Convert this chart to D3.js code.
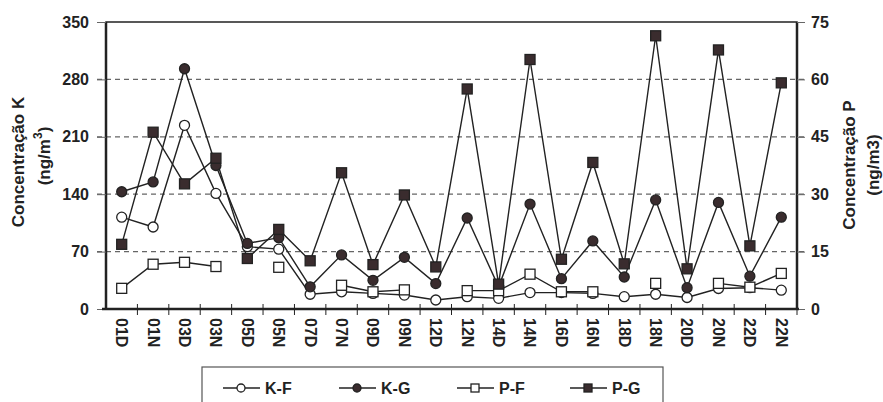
<html>
<head>
<meta charset="UTF-8">
<script src="https://cdnjs.cloudflare.com/ajax/libs/d3/7.8.5/d3.min.js"></script>
<style>
  body { margin: 0; background: #fff; }
  text { font-family: "Liberation Sans", Arial, sans-serif; font-weight: bold; fill: #222; }
</style>
</head>
<body>
<script>
    // sampling days / periods
    var categories = ["01D","01N","03D","03N","05D","05N","07D","07N","09D","09N","12D","12N",
                      "14D","14N","16D","16N","18D","18N","20D","20N","22D","22N"];

    // K concentrations (left axis, ng/m3)
    var kF = [112, 100, 224, 141, 76, 73, 18, 21, 19, 17, 11, 15, 13, 20, 20, 19, 15, 18, 14, 25, 26, 23];
    var kG = [143, 155, 293, 175, 80, 87, 27, 66, 35, 63, 31, 111, 27, 128, 37, 83, 39, 133, 26, 130, 40, 112];

    // P concentrations (right axis, ng/m3), null = no sample
    var pF = [5.4, 11.7, 12.2, 11.1, null, 10.9, null, 6.2, 4.5, 5.0, null, 4.8,
              4.8, 9.1, 4.5, 4.5, null, 6.7, null, 6.7, 5.7, 9.3];
    var pG = [16.9, 46.2, 32.7, 39.4, 13.2, 20.8, 12.6, 35.6, 11.6, 29.8, 11.0, 57.5,
              6.5, 65.2, 13.0, 38.3, 11.8, 71.4, 10.5, 67.7, 16.5, 59.1];

    var kTicks = [0, 70, 140, 210, 280, 350];
    var pTicks = [0, 15, 30, 45, 60, 75];

    var width = 883, height = 402;
    var plotL = 106, plotR = 797, plotT = 22, plotB = 309;
    var ink = "#222";
    var fillDark = "#3a2c2e";

    var svg = d3.select("body").append("svg")
        .attr("width", width)
        .attr("height", height);

    var x = d3.scaleBand().domain(categories).range([plotL, plotR]);
    var yK = d3.scaleLinear().domain([0, 350]).range([plotB, plotT]);
    var yP = d3.scaleLinear().domain([0, 75]).range([plotB, plotT]);

    // grid lines
    svg.append("g").selectAll("line")
        .data(kTicks.slice(1, -1))
        .enter().append("line")
        .attr("x1", plotL - 9).attr("x2", plotR + 8)
        .attr("y1", function (d) { return yK(d); })
        .attr("y2", function (d) { return yK(d); })
        .attr("stroke", "#666").attr("stroke-width", 1.2)
        .attr("stroke-dasharray", "5,4");

    // frame
    svg.append("rect")
        .attr("x", plotL).attr("y", plotT)
        .attr("width", plotR - plotL).attr("height", plotB - plotT)
        .attr("fill", "none").attr("stroke", ink).attr("stroke-width", 1.5);
    svg.append("line").attr("x1", plotR).attr("x2", plotR).attr("y1", plotT).attr("y2", plotB)
        .attr("stroke", ink).attr("stroke-width", 2.5);
    svg.append("line").attr("x1", plotL).attr("x2", plotL).attr("y1", plotT).attr("y2", plotB)
        .attr("stroke", ink).attr("stroke-width", 2.5);

    // left axis
    var gl = svg.append("g")
        .attr("transform", "translate(" + plotL + ",0)")
        .call(d3.axisLeft(yK).tickValues(kTicks).tickSize(9).tickPadding(8));
    gl.select(".domain").remove();
    gl.selectAll(".tick line").attr("stroke", "#666");
    gl.selectAll(".tick text").style("font-size", "16px");

    // right axis
    var gr = svg.append("g")
        .attr("transform", "translate(" + plotR + ",0)")
        .call(d3.axisRight(yP).tickValues(pTicks).tickSize(8).tickPadding(6));
    gr.select(".domain").remove();
    gr.selectAll(".tick line").attr("stroke", "#666");
    gr.selectAll(".tick text").style("font-size", "16px");

    // bottom axis: ticks at band edges
    var edges = categories.map(function (c) { return x(c); }).concat([plotR]);
    svg.append("line").attr("x1", plotL - 4).attr("x2", plotR + 2)
        .attr("y1", plotB).attr("y2", plotB)
        .attr("stroke", ink).attr("stroke-width", 2.5);
    svg.append("g").selectAll("line")
        .data(edges.slice(1))
        .enter().append("line")
        .attr("x1", function (d) { return d; }).attr("x2", function (d) { return d; })
        .attr("y1", plotB - 5).attr("y2", plotB + 6)
        .attr("stroke", ink).attr("stroke-width", 1);

    svg.append("g").selectAll("text")
        .data(categories)
        .enter().append("text")
        .attr("transform", function (d) {
            return "translate(" + (x(d) + x.bandwidth() / 2) + "," + (plotB + 9) + ") rotate(90)";
        })
        .attr("dy", "0.35em")
        .style("font-size", "16px")
        .text(function (d) { return d; });

    // axis titles
    svg.append("text")
        .attr("transform", "translate(24,162) rotate(-90)")
        .attr("text-anchor", "middle")
        .style("font-size", "17px")
        .text("Concentração K");
    var t2 = svg.append("text")
        .attr("transform", "translate(50,156) rotate(-90)")
        .attr("text-anchor", "middle")
        .style("font-size", "17px");
    t2.append("tspan").text("(ng/m");
    t2.append("tspan").attr("dy", "-8").style("font-size", "12px").text("3");
    t2.append("tspan").attr("dy", "8").text(")");

    svg.append("text")
        .attr("transform", "translate(855,165) rotate(-90)")
        .attr("text-anchor", "middle")
        .style("font-size", "17px")
        .text("Concentração P");
    svg.append("text")
        .attr("transform", "translate(879,165) rotate(-90)")
        .attr("text-anchor", "middle")
        .style("font-size", "17px")
        .text("(ng/m3)");

    var cx = function (i) { return x(categories[i]) + x.bandwidth() / 2; };

    var series = [
        {name: "K-F", values: kF, y: yK, shape: "circle", filled: false},
        {name: "K-G", values: kG, y: yK, shape: "circle", filled: true},
        {name: "P-F", values: pF, y: yP, shape: "square", filled: false},
        {name: "P-G", values: pG, y: yP, shape: "square", filled: true}
    ];

    function drawMarker(g, shape, filled, px, py, size) {
        var r = size || 5;
        if (shape === "circle") {
            g.append("circle").attr("cx", px).attr("cy", py).attr("r", r)
                .attr("fill", filled ? fillDark : "#fff")
                .attr("stroke", ink).attr("stroke-width", 1.3);
        } else {
            g.append("rect").attr("x", px - r).attr("y", py - r)
                .attr("width", 2 * r).attr("height", 2 * r)
                .attr("fill", filled ? fillDark : "#fff")
                .attr("stroke", ink).attr("stroke-width", 1.3);
        }
    }

    series.forEach(function (s) {
        var line = d3.line()
            .defined(function (d) { return d != null; })
            .x(function (d, i) { return cx(i); })
            .y(function (d) { return s.y(d); });
        svg.append("path")
            .datum(s.values)
            .attr("d", line)
            .attr("fill", "none")
            .attr("stroke", ink)
            .attr("stroke-width", 1.4);
    });
    series.forEach(function (s) {
        var g = svg.append("g");
        s.values.forEach(function (v, i) {
            if (v == null) return;
            drawMarker(g, s.shape, s.filled, cx(i), s.y(v));
        });
    });

    // legend
    svg.append("rect")
        .attr("x", 202).attr("y", 367)
        .attr("width", 461).attr("height", 50)
        .attr("fill", "#fff").attr("stroke", "#555").attr("stroke-width", 1.2);
    var legX = [223, 339, 457, 570];
    series.forEach(function (s, i) {
        var g = svg.append("g");
        var lx = legX[i], ly = 388;
        g.append("line").attr("x1", lx).attr("x2", lx + 37).attr("y1", ly).attr("y2", ly)
            .attr("stroke", ink).attr("stroke-width", 1.4);
        drawMarker(g, s.shape, s.filled, lx + 18, ly, 4);
        g.append("text").attr("x", lx + 42).attr("y", ly).attr("dy", "0.36em")
            .style("font-size", "16px").text(s.name);
    });
</script>
</body>
</html>
